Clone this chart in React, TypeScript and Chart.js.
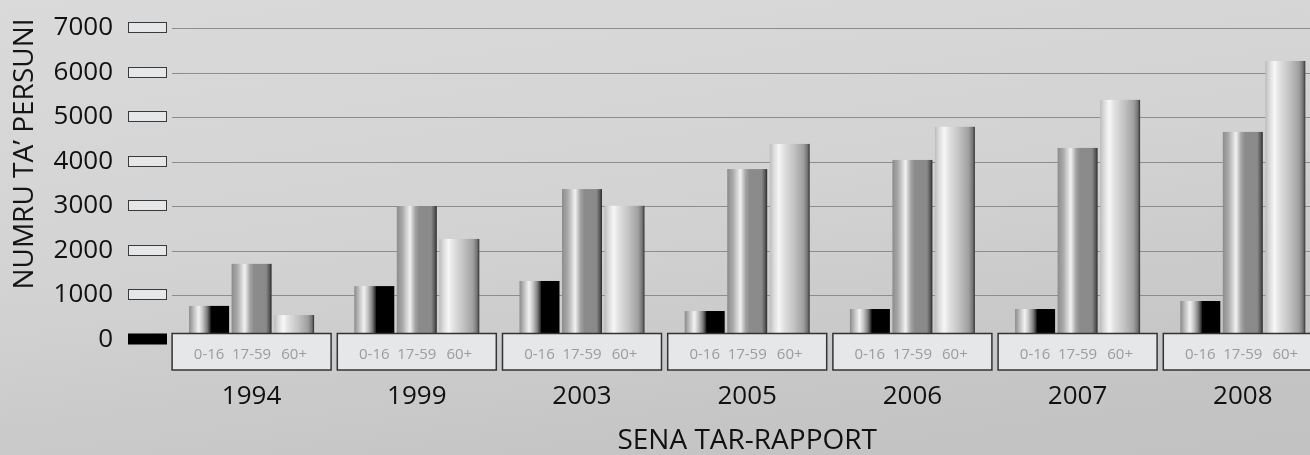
import React, { useEffect, useRef } from "react";
import { Chart, registerables } from "chart.js";

Chart.register(...registerables);

// ---- data ----
const years = ["1994", "1999", "2003", "2005", "2006", "2007", "2008"];
const ageGroups = ["0-16", "17-59", "60+"];
const age0to16 = [755, 1200, 1315, 640, 685, 685, 865];
const age17to59 = [1700, 3000, 3380, 3830, 4035, 4305, 4665];
const age60plus = [550, 2260, 3005, 4395, 4780, 5385, 6260];
const yTickValues = [0, 1000, 2000, 3000, 4000, 5000, 6000, 7000];
const yTitle = "NUMRU TA’ PERSUNI";
const xTitle = "SENA TAR-RAPPORT";

const FONT = "'Open Sans', 'Noto Sans', sans-serif";

const gradientStops: [number, string][][] = [
  [
    [0, "#8a8a8a"],
    [0.1, "#b8b8b8"],
    [0.24, "#f2f2f2"],
    [0.34, "#c4c4c4"],
    [0.45, "#7e7e7e"],
    [0.53, "#2a2a2a"],
    [0.55, "#000000"],
    [1, "#000000"],
  ],
  [
    [0, "#8c8c8c"],
    [0.14, "#a9a9a9"],
    [0.33, "#f2f2f2"],
    [0.46, "#a4a4a4"],
    [0.56, "#8b8b8b"],
    [0.86, "#8a8a8a"],
    [0.94, "#5c5c5c"],
    [1, "#2c2c2c"],
  ],
  [
    [0, "#bcbcbc"],
    [0.1, "#dadada"],
    [0.23, "#f7f7f7"],
    [0.36, "#e0e0e0"],
    [0.6, "#c3c3c3"],
    [0.84, "#a0a0a0"],
    [0.94, "#767676"],
    [1, "#333333"],
  ],
];

const decorPlugin = {
  id: "decor",
  beforeDatasetsDraw(chart: any) {
    const ctx = chart.ctx;
    const y = chart.scales.y;
    const area = chart.chartArea;
    ctx.save();
    // gridlines
    ctx.strokeStyle = "#8d8d8d";
    ctx.lineWidth = 1;
    yTickValues.forEach((v) => {
      if (v === 0) return;
      const py = Math.round(y.getPixelForValue(v)) + 0.5;
      ctx.beginPath();
      ctx.moveTo(area.left + 3, py);
      ctx.lineTo(chart.width, py);
      ctx.stroke();
    });
    // tick rectangles
    yTickValues.forEach((v) => {
      const py = y.getPixelForValue(v);
      if (v === 0) {
        ctx.fillStyle = "#000";
        ctx.fillRect(128, py - 6, 39, 11);
      } else {
        ctx.fillStyle = "#e6e7e9";
        ctx.fillRect(128.5, Math.round(py) - 5.5, 38, 10);
        ctx.strokeStyle = "#3a3a3a";
        ctx.lineWidth = 1;
        ctx.strokeRect(128.5, Math.round(py) - 5.5, 38, 10);
      }
    });
    ctx.restore();
  },
  afterDatasetsDraw(chart: any) {
    const ctx = chart.ctx;
    const xs = chart.scales.x;
    ctx.save();
    // metallic bars
    chart.data.datasets.forEach((_ds: any, di: number) => {
      const meta = chart.getDatasetMeta(di);
      meta.data.forEach((el: any) => {
        const { x, y, base, width } = el.getProps(["x", "y", "base", "width"], true);
        const left = x - width / 2;
        const right = x + width / 2;
        const g = ctx.createLinearGradient(left, 0, right, 0);
        gradientStops[di].forEach(([o, c]) => g.addColorStop(o, c));
        ctx.fillStyle = g;
        ctx.fillRect(left, Math.min(y, base), width, Math.abs(base - y));
      });
    });
    // category boxes
    years.forEach((_yr, i) => {
      const cx = xs.getPixelForValue(i);
      const bx = cx - 79.5;
      ctx.fillStyle = "#e6e7e9";
      ctx.fillRect(bx, 333.5, 159, 36.5);
      ctx.strokeStyle = "#333333";
      ctx.lineWidth = 1.5;
      ctx.strokeRect(bx, 333.5, 159, 36.5);
    });
    // age group labels inside boxes
    ctx.fillStyle = "#9c9c9c";
    ctx.font = `15px ${FONT}`;
    ctx.textAlign = "center";
    ctx.textBaseline = "middle";
    chart.data.datasets.forEach((_ds: any, di: number) => {
      const meta = chart.getDatasetMeta(di);
      meta.data.forEach((el: any) => {
        ctx.fillText(ageGroups[di], el.x, 355);
      });
    });
    ctx.restore();
  },
  afterDraw(chart: any) {
    const ctx = chart.ctx;
    ctx.save();
    ctx.translate(25, 154);
    ctx.rotate(-Math.PI / 2);
    ctx.fillStyle = "#151515";
    ctx.font = `28px ${FONT}`;
    ctx.textAlign = "center";
    ctx.textBaseline = "middle";
    ctx.fillText(yTitle, 0, 0);
    ctx.restore();
  },
};

export default function App() {
  const canvasRef = useRef<HTMLCanvasElement | null>(null);

  useEffect(() => {
    if (!canvasRef.current) return;
    const chart = new Chart(canvasRef.current, {
      type: "bar",
      data: {
        labels: years,
        datasets: [
          { label: ageGroups[0], data: age0to16, backgroundColor: "rgba(0,0,0,0)", borderWidth: 0 },
          { label: ageGroups[1], data: age17to59, backgroundColor: "rgba(0,0,0,0)", borderWidth: 0 },
          { label: ageGroups[2], data: age60plus, backgroundColor: "rgba(0,0,0,0)", borderWidth: 0 },
        ],
      },
      options: {
        responsive: false,
        animation: false,
        devicePixelRatio: 1,
        layout: { padding: { top: 28, right: 14.6, bottom: 0, left: 0 } },
        datasets: { bar: { categoryPercentage: 0.772, barPercentage: 0.941 } },
        plugins: {
          legend: { display: false },
          tooltip: { enabled: false },
        },
        scales: {
          x: {
            grid: { display: false, drawTicks: false },
            border: { display: false },
            ticks: {
              color: "#111",
              font: { family: FONT, size: 26 },
              padding: 41,
              maxRotation: 0,
            },
            title: {
              display: true,
              text: xTitle,
              color: "#111",
              font: { family: FONT, size: 28, lineHeight: 1 },
              padding: { top: 0, bottom: 0 },
            },
            afterFit(scale: any) {
              scale.height = 115.5;
              scale.paddingLeft = 0;
              scale.paddingRight = 0;
            },
          },
          y: {
            min: 0,
            max: 7000,
            grid: { display: false, drawTicks: false },
            border: { display: false },
            ticks: {
              stepSize: 1000,
              color: "#111",
              font: { family: FONT, size: 26 },
              padding: 56,
              callback: (v: any) => String(v),
            },
            afterFit(scale: any) {
              scale.width = 169;
              scale.paddingTop = 0;
              scale.paddingBottom = 0;
            },
          },
        },
      },
      plugins: [decorPlugin],
    } as any);
    return () => chart.destroy();
  }, []);

  return (
    <div
      style={{
        position: "fixed",
        left: 0,
        top: 0,
        width: 1310,
        height: 455,
        overflow: "hidden",
        background: "linear-gradient(172deg, #dadada 0%, #d3d3d3 45%, #c6c6c6 80%, #c1c1c1 100%)",
      }}
    >
      <canvas ref={canvasRef} width={1340} height={455} style={{ display: "block" }} />
    </div>
  );
}
